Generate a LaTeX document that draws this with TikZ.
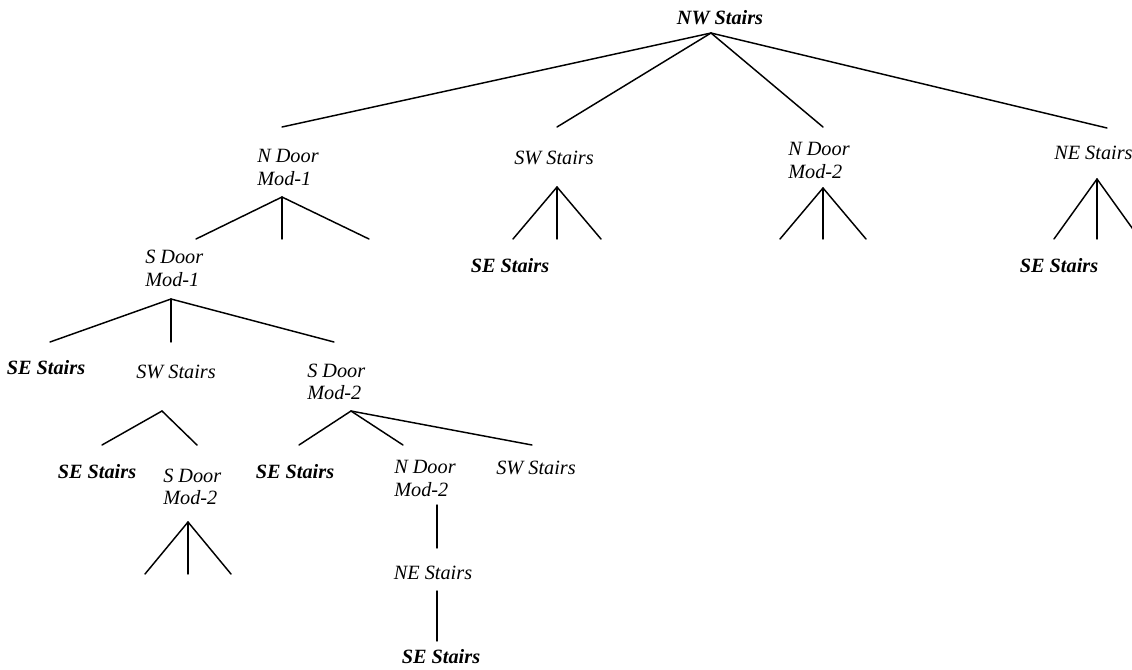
\documentclass[tikz,border=0pt]{standalone}
\usepackage{fontspec}
\setmainfont{Liberation Serif}
\begin{document}
\begin{tikzpicture}[x=0.75pt,y=-0.75pt,
  lbl/.style={font=\fontsize{15.2}{17}\selectfont\itshape, inner sep=0pt, align=left},
  lblb/.style={lbl, font=\fontsize{15.2}{17}\selectfont\bfseries\itshape},
  branch/.style={line width=1.1pt, line cap=round}]
\useasboundingbox (0,0) rectangle (1132,669);

% ---- root ----
\node[lblb] (nw) at (720,18) {NW Stairs};
\coordinate (nw-b) at (711,33);

% ---- first level ----
\node[lbl,anchor=west] (nd1) at (257,167.5) {N Door\\Mod-1};
\coordinate (nd1-t) at (282,127);
\coordinate (nd1-b) at (282,197);
\coordinate (nd1-c2) at (282,239);
\coordinate (nd1-c3) at (369,239);

\node[lbl] (sw1) at (554,158) {SW Stairs};
\coordinate (sw1-t) at (557,127);
\coordinate (sw1-b) at (557,187);
\coordinate (se1-t) at (513,239);
\coordinate (sw1-c2) at (557,239);
\coordinate (sw1-c3) at (601,239);
\node[lblb] (se1) at (510,266) {SE Stairs};

\node[lbl,anchor=west] (nd2) at (788,160.5) {N Door\\Mod-2};
\coordinate (nd2-t) at (823,127);
\coordinate (nd2-b) at (823,188);
\coordinate (nd2-c1) at (780,239);
\coordinate (nd2-c2) at (823,239);
\coordinate (nd2-c3) at (866,239);

\node[lbl,anchor=west] (ne1) at (1054,153) {NE Stairs};
\coordinate (ne1-t) at (1107,128);
\coordinate (ne1-b) at (1097,179);
\coordinate (se2-t) at (1054,239);
\coordinate (ne1-c2) at (1097,239);
\coordinate (ne1-c3) at (1140,239);
\node[lblb] (se2) at (1059,266) {SE Stairs};

\draw[branch] (nw-b) -- (nd1-t);
\draw[branch] (nw-b) -- (sw1-t);
\draw[branch] (nw-b) -- (nd2-t);
\draw[branch] (nw-b) -- (ne1-t);

\draw[branch] (sw1-b) -- (se1-t);
\draw[branch] (sw1-b) -- (sw1-c2);
\draw[branch] (sw1-b) -- (sw1-c3);

\draw[branch] (nd2-b) -- (nd2-c1);
\draw[branch] (nd2-b) -- (nd2-c2);
\draw[branch] (nd2-b) -- (nd2-c3);

\draw[branch] (ne1-b) -- (se2-t);
\draw[branch] (ne1-b) -- (ne1-c2);
\draw[branch] (ne1-b) -- (ne1-c3);

% ---- S Door Mod-1 subtree ----
\node[lbl,anchor=west] (sd1) at (145,268.5) {S Door\\Mod-1};
\coordinate (sd1-t) at (196,239);
\coordinate (sd1-b) at (171,299);
\draw[branch] (nd1-b) -- (sd1-t);
\draw[branch] (nd1-b) -- (nd1-c2);
\draw[branch] (nd1-b) -- (nd1-c3);

\node[lblb] (seA) at (46,368) {SE Stairs};
\coordinate (seA-t) at (50,342);
\node[lbl] (sw2) at (176,372) {SW Stairs};
\coordinate (sw2-t) at (171,342);
\coordinate (sw2-b) at (162,411);
\node[lbl,anchor=west] (sd2) at (307,382) {S Door\\Mod-2};
\coordinate (sd2-t) at (334,342);
\coordinate (sd2-b) at (351,411);

\draw[branch] (sd1-b) -- (seA-t);
\draw[branch] (sd1-b) -- (sw2-t);
\draw[branch] (sd1-b) -- (sd2-t);

% under SW Stairs
\node[lblb] (seB) at (97,472) {SE Stairs};
\coordinate (seB-t) at (102,445);
\node[lbl,anchor=west] (sd3) at (163,487) {S Door\\Mod-2};
\coordinate (sd3-t) at (197,445);
\coordinate (sd3-b) at (188,522);
\coordinate (sd3-c1) at (145,574);
\coordinate (sd3-c2) at (188,574);
\coordinate (sd3-c3) at (231,574);

\draw[branch] (sw2-b) -- (seB-t);
\draw[branch] (sw2-b) -- (sd3-t);
\draw[branch] (sd3-b) -- (sd3-c1);
\draw[branch] (sd3-b) -- (sd3-c2);
\draw[branch] (sd3-b) -- (sd3-c3);

% under S Door Mod-2
\node[lblb] (seC) at (295,472) {SE Stairs};
\coordinate (seC-t) at (299,445);
\node[lbl,anchor=west] (nd3) at (394,478.5) {N Door\\Mod-2};
\coordinate (nd3-t) at (403,445);
\coordinate (nd3-b) at (437,505);
\node[lbl] (sw3) at (536,468) {SW Stairs};
\coordinate (sw3-t) at (532,445);

\draw[branch] (sd2-b) -- (seC-t);
\draw[branch] (sd2-b) -- (nd3-t);
\draw[branch] (sd2-b) -- (sw3-t);

\node[lbl] (ne2) at (433,573) {NE Stairs};
\coordinate (ne2-t) at (437,548);
\coordinate (ne2-b) at (437,591);
\node[lblb] (seD) at (441,657) {SE Stairs};
\coordinate (seD-t) at (437,641);

\draw[branch] (nd3-b) -- (ne2-t);
\draw[branch] (ne2-b) -- (seD-t);
\end{tikzpicture}
\end{document}
